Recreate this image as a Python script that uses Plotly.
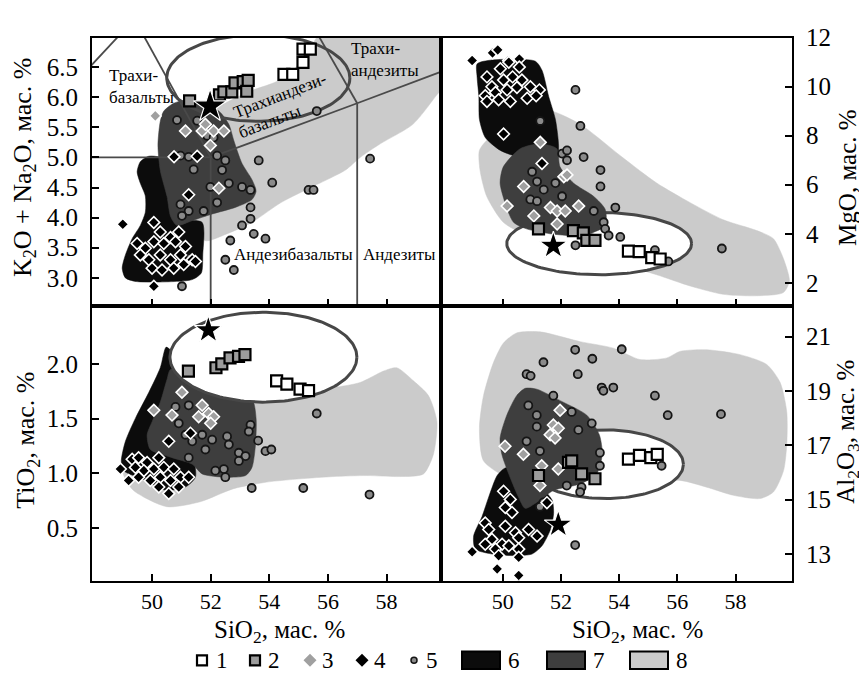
import numpy as np
import plotly.graph_objects as go

FONT = "Liberation Serif"

# ---------------- TAS panel (SiO2 vs K2O+Na2O) ----------------
TAS_G1_X = [54.5, 54.8, 55.15, 55.15, 55.4]
TAS_G1_Y = [6.38, 6.38, 6.58, 6.80, 6.80]
TAS_G2_X = [51.28, 52.3, 52.45, 52.72, 52.83, 53.11, 53.23, 53.28]
TAS_G2_Y = [5.94, 6.04, 6.09, 6.09, 6.24, 6.26, 6.10, 6.28]
TAS_G3_X = [50.11, 51.14, 51.71, 52.10, 52.45, 51.99, 51.82, 52.28]
TAS_G3_Y = [5.69, 5.44, 5.44, 5.44, 5.44, 5.20, 5.55, 4.49]
TAS_G4_X = [50.75, 51.54, 51.25, 50.06, 50.28, 50.63, 50.91, 49.49, 49.77, 50.06, 50.40, 50.80, 51.14,
            49.60, 49.89, 50.28, 50.63, 50.97, 51.37, 50.0, 50.34, 50.74, 51.08, 51.48, 49.0, 50.06]
TAS_G4_Y = [5.01, 5.02, 4.38, 3.92, 3.76, 3.67, 3.76, 3.57, 3.49, 3.60, 3.57, 3.60, 3.52,
            3.38, 3.30, 3.38, 3.30, 3.38, 3.30, 3.16, 3.13, 3.16, 3.22, 3.27, 3.89, 2.86]
TAS_G5_X = [50.85, 51.54, 51.88, 52.10, 50.97, 51.25, 52.22, 52.50, 53.64, 51.42, 52.39, 52.62, 51.99,
            53.07, 53.36, 54.10, 52.22, 50.97, 51.25, 51.76, 51.02, 53.36, 53.36, 53.07, 53.47, 53.87,
            52.67, 52.50, 52.79, 51.31, 51.02, 55.62, 57.44, 55.34, 55.51]
TAS_G5_Y = [5.62, 5.61, 5.36, 5.33, 5.03, 5.01, 5.03, 4.95, 4.95, 4.80, 4.79, 4.57, 4.51,
            4.51, 4.46, 4.58, 4.25, 4.22, 4.11, 4.11, 4.03, 4.17, 3.98, 3.87, 3.73, 3.65,
            3.62, 3.30, 3.13, 3.33, 2.86, 5.77, 4.98, 4.46, 4.46]
TAS_STAR = ([51.98], [5.85])
TAS_F6_X = [49.09, 48.98, 49.09, 49.32, 49.60, 49.77, 49.77, 49.60, 49.49, 49.60, 49.89, 50.28, 50.57,
            50.66, 50.68, 50.91, 51.71, 51.73, 51.68, 51.37, 50.23, 49.43]
TAS_F6_Y = [2.998, 3.16, 3.38, 3.65, 3.87, 4.09, 4.36, 4.57, 4.76, 4.93, 5.02, 5.00, 4.87,
            4.63, 4.25, 3.98, 3.92, 3.38, 3.08, 2.97, 2.93, 2.94]
TAS_F7_X = [50.28, 50.40, 50.74, 51.25, 51.71, 52.28, 52.62, 52.79, 53.07, 53.41, 53.55, 53.41, 52.84,
            52.05, 51.37, 50.85, 50.63, 50.51, 50.28, 50.20]
TAS_F7_Y = [5.60, 5.77, 5.90, 5.96, 5.90, 5.77, 5.55, 5.28, 4.90, 4.63, 4.44, 4.30, 4.17,
            4.06, 3.95, 3.87, 4.02, 4.35, 4.78, 5.21]
TAS_F8_X = [51.8, 52.5, 53.4, 54.4, 55.5, 56.6, 57.1, 57.8, 58.9, 59.72, 60.3, 60.3, 55.9, 55.61,
            55.27, 54.82, 54.25, 53.45, 52.77, 52.09, 51.5, 51.3]
TAS_F8_Y = [3.62, 3.72, 3.92, 4.25, 4.52, 4.79, 5.0, 5.23, 5.55, 6.04, 6.4, 7.3, 7.3, 6.99,
            6.74, 6.45, 6.26, 6.12, 5.97, 5.77, 5.0, 4.2]
TAS_ELLIPSE = (50.5, 56.75, 5.6, 7.04)
# TAS classification boundaries (segments)
TAS_LINES = [
    ([45, 49.4], [5, 7.3]),
    ([45, 52], [5, 5]),
    ([52, 49.4], [5, 7.3]),
    ([52, 52], [0, 5]),
    ([52, 57], [5, 5.9]),
    ([57, 63], [5.9, 7.0]),
    ([57, 57], [0, 5.9]),
    ([57, 53], [5.9, 9.3]),
]

# ---------------- MgO panel ----------------
MGO_G1_X = [54.32, 54.69, 55.12, 55.41]
MGO_G1_Y = [3.29, 3.27, 3.03, 2.97]
MGO_G2_X = [51.23, 52.43, 52.77, 52.89, 53.17]
MGO_G2_Y = [4.2, 4.13, 4.04, 3.73, 3.73]
MGO_G3_X = [51.29, 50.72, 52.10, 52.21, 50.15, 52.61, 51.64, 51.87, 52.15, 51.07, 51.87]
MGO_G3_Y = [7.73, 5.93, 6.33, 6.40, 5.13, 5.13, 5.07, 4.93, 4.93, 4.73, 4.40]
MGO_G4_X = [48.95, 49.65, 49.83, 50.57, 50.2, 49.46, 49.92, 50.21, 50.57, 49.63, 50.03, 50.34, 50.66,
            50.95, 51.26, 49.40, 49.75, 50.15, 50.49, 50.26, 50.84, 51.15, 49.46, 49.86, 50.03, 51.35]
MGO_G4_Y = [11.07, 11.38, 11.5, 11.13, 11.07, 10.40, 10.73, 11.00, 10.80, 10.00, 10.27, 10.40, 10.27,
            10.00, 9.87, 9.63, 9.76, 9.87, 9.97, 9.40, 9.53, 9.63, 9.40, 9.47, 8.07, 6.87]
MGO_G5_X = [52.50, 52.67, 51.29, 52.04, 52.21, 52.21, 52.78, 53.36, 53.36, 51.01, 51.18, 51.41, 51.81,
            52.04, 50.95, 51.18, 53.13, 53.87, 53.47, 53.52, 52.50, 53.64, 54.04, 55.23, 55.69, 57.53]
MGO_G5_Y = [9.87, 8.40, 8.60, 7.27, 7.40, 7.0, 7.13, 6.60, 5.93, 6.53, 6.13, 5.80, 6.07,
            5.53, 5.40, 5.33, 4.93, 5.07, 4.47, 4.20, 3.53, 3.93, 3.87, 3.33, 2.87, 3.40]
MGO_STAR = ([51.74], [3.51])
MGO_F6_X = [49.12, 49.63, 51.12, 51.35, 51.58, 51.81, 51.92, 51.87, 51.35, 50.66, 49.92, 49.40, 49.20,
            49.18, 49.12]
MGO_F6_Y = [10.93, 11.09, 11.04, 10.67, 9.60, 8.67, 7.60, 7.07, 7.04, 7.09, 7.40, 7.93, 8.67,
            9.60, 10.40]
MGO_F7_X = [50.02, 50.60, 51.28, 51.86, 51.97, 52.43, 53.12, 53.52, 53.52, 52.77, 51.63, 50.82, 50.37,
            50.08, 49.91]
MGO_F7_Y = [6.73, 7.47, 7.67, 7.47, 6.73, 6.07, 5.53, 5.00, 4.33, 3.93, 4.00, 4.20, 4.47,
            5.27, 6.07]
MGO_F8_X = [49.56, 49.20, 49.22, 49.45, 50.02, 50.82, 51.86, 53.00, 54.15, 55.29, 56.44, 57.58, 58.73,
            59.64, 59.85, 59.64, 59.30, 58.73, 57.58, 56.44, 55.29, 54.10, 52.66, 51.70, 51.28]
MGO_F8_Y = [7.93, 7.40, 6.60, 5.53, 4.47, 3.93, 3.47, 3.07, 2.73, 2.33, 1.87, 1.53, 1.47,
            1.60, 2.07, 3.00, 3.80, 4.13, 4.57, 5.27, 6.07, 7.13, 8.47, 9.00, 9.00]
MGO_ELLIPSE = (50.14, 56.49, 2.33, 4.87)

# ---------------- TiO2 panel ----------------
TIO2_G1_X = [54.25, 54.6, 55.05, 55.34]
TIO2_G1_Y = [1.847, 1.817, 1.772, 1.757]
TIO2_G2_X = [51.24, 52.18, 52.38, 52.66, 52.95, 53.17]
TIO2_G2_Y = [1.937, 1.967, 2.003, 2.057, 2.072, 2.087]
TIO2_G3_X = [50.06, 51.02, 50.68, 51.71, 51.93, 52.10, 51.59, 52.0]
TIO2_G3_Y = [1.578, 1.742, 1.533, 1.623, 1.548, 1.518, 1.518, 1.458]
TIO2_G4_X = [50.57, 51.31, 49.32, 49.54, 49.83, 50.23, 49.43, 49.72, 50.06, 50.40, 50.74, 49.54, 49.94,
             50.28, 50.63, 50.97, 51.25, 50.23, 50.57, 50.91, 48.92, 49.20]
TIO2_G4_Y = [1.293, 1.368, 1.129, 1.143, 1.099, 1.143, 1.054, 1.024, 1.039, 1.054, 1.039, 0.964, 0.934,
             0.964, 0.934, 0.964, 0.964, 0.874, 0.814, 0.874, 1.039, 0.934]
TIO2_G5_X = [50.80, 51.25, 50.91, 51.14, 51.37, 51.71, 52.05, 52.56, 52.62, 51.82, 52.96, 53.19, 52.96,
             53.36, 53.30, 53.62, 53.87, 54.07, 52.16, 52.45, 52.50, 51.25, 55.62, 55.16, 57.42, 53.40]
TIO2_G5_Y = [1.608, 1.623, 1.458, 1.353, 1.293, 1.353, 1.308, 1.338, 1.263, 1.218, 1.188, 1.158, 1.113,
             1.443, 1.383, 1.299, 1.203, 1.218, 1.024, 1.039, 0.964, 1.143, 1.548, 0.865, 0.805, 0.865]
TIO2_STAR = ([51.92], [2.312])
TIO2_F6_X = [50.48, 50.66, 50.74, 50.63, 50.80, 51.42, 51.48, 51.14, 50.46, 49.66, 49.03, 48.95, 49.09,
             49.43, 49.89, 50.28]
TIO2_F6_Y = [2.156, 2.117, 1.952, 1.712, 1.353, 1.113, 0.964, 0.874, 0.844, 0.949, 1.024, 1.113, 1.293,
             1.503, 1.742, 1.967]
TIO2_F7_X = [50.63, 51.37, 52.50, 53.41, 53.55, 53.53, 53.41, 53.19, 52.50, 51.71, 51.37, 50.68, 49.94,
             49.83, 50.0, 50.28, 50.51]
TIO2_F7_Y = [1.952, 1.922, 1.802, 1.683, 1.503, 1.263, 1.054, 0.979, 0.964, 0.994, 1.083, 1.143, 1.218,
             1.353, 1.473, 1.653, 1.862]
TIO2_F8_X = [49.02, 49.36, 50.50, 51.64, 52.78, 53.91, 55.05, 56.19, 57.33, 58.46, 59.26, 59.60, 59.72,
             59.43, 58.92, 58.35, 57.90, 57.10, 56.19, 55.05, 53.91, 52.78, 50.50, 49.14]
TIO2_F8_Y = [0.994, 0.844, 0.694, 0.739, 0.859, 0.919, 0.949, 0.970, 0.979, 0.970, 0.994, 1.173, 1.473,
             1.712, 1.847, 1.967, 1.937, 1.832, 1.787, 1.787, 1.772, 1.712, 1.413, 1.173]
TIO2_ELLIPSE = (50.61, 56.99, 1.652, 2.476)

# ---------------- Al2O3 panel ----------------
AL_G1_X = [54.32, 54.70, 55.09, 55.31]
AL_G1_Y = [16.49, 16.63, 16.55, 16.67]
AL_G2_X = [52.26, 52.37, 52.71, 53.17, 51.23]
AL_G2_Y = [16.37, 16.43, 15.95, 15.77, 15.89]
AL_G3_X = [51.97, 51.74, 51.91, 51.63, 50.08, 50.71, 51.80, 51.34, 51.91, 51.28]
AL_G3_Y = [18.29, 17.75, 17.63, 17.39, 16.97, 16.67, 17.27, 16.25, 16.13, 15.52]
AL_G4_X = [50.03, 50.26, 50.09, 50.32, 51.52, 49.40, 49.52, 50.09, 50.44, 49.63, 49.98, 50.55, 50.89,
           51.18, 49.40, 50.21, 50.55, 49.75, 48.95, 49.86, 50.55, 49.81, 50.55]
AL_G4_Y = [15.31, 15.01, 14.71, 14.53, 14.89, 14.14, 13.90, 14.02, 13.78, 13.54, 13.36, 13.60, 13.90,
           13.66, 13.36, 13.30, 13.18, 13.18, 13.08, 12.94, 12.88, 12.45, 12.21]
AL_G5_X = [52.49, 54.09, 53.08, 51.40, 50.82, 50.96, 52.58, 53.40, 53.46, 53.80, 55.23, 55.67, 57.50,
           51.74, 50.88, 51.17, 51.17, 52.37, 53.06, 52.60, 50.82, 51.28, 53.34, 53.34, 52.20, 52.71,
           52.66, 52.49, 55.46, 51.40, 51.28]
AL_G5_Y = [20.52, 20.54, 20.19, 20.06, 19.62, 19.56, 19.62, 19.13, 19.01, 19.13, 18.83, 18.11, 18.15,
           18.83, 18.47, 18.11, 17.69, 18.23, 17.81, 17.57, 17.15, 16.79, 16.73, 16.25, 15.52, 15.46,
           15.28, 13.33, 16.25, 14.90, 14.74]
AL_STAR = ([51.91], [14.08])
AL_F6_X = [49.81, 50.09, 50.49, 50.89, 51.41, 51.70, 51.75, 51.64, 51.35, 51.01, 50.44, 49.63, 49.06,
           49.00, 49.29, 49.52]
AL_F6_Y = [15.89, 16.17, 16.10, 15.47, 15.34, 14.98, 14.50, 13.90, 13.30, 13.00, 12.94, 13.00, 13.18,
           13.66, 14.38, 15.10]
AL_F7_X = [50.48, 50.77, 51.17, 52.08, 52.89, 53.32, 53.42, 53.23, 52.66, 51.74, 51.28, 50.77, 50.54,
           50.25, 49.97, 49.91, 50.14]
AL_F7_Y = [18.83, 19.10, 19.07, 18.59, 18.11, 17.39, 16.67, 15.95, 15.58, 15.34, 14.98, 14.68, 15.10,
           15.83, 16.67, 17.27, 18.11]
AL_F8_X = [50.48, 51.28, 52.66, 53.80, 54.72, 55.64, 56.09, 57.01, 58.16, 59.07, 59.53, 59.76, 59.76,
           59.65, 59.30, 58.84, 57.93, 57.01, 56.09, 54.72, 53.00, 51.28, 50.14, 49.34, 49.20, 49.34,
           49.68, 50.02]
AL_F8_Y = [21.14, 21.18, 20.82, 20.58, 20.16, 20.22, 20.46, 20.52, 20.34, 19.98, 19.32, 18.23, 17.03,
           16.07, 15.28, 15.04, 15.16, 15.46, 15.71, 15.58, 15.46, 15.58, 15.83, 16.43, 17.63, 18.83,
           20.04, 20.76]
AL_ELLIPSE = (50.82, 56.21, 15.04, 17.57)

X_TICKS = [50, 52, 54, 56, 58]
KEY_LABELS = ["1", "2", "3", "4", "5", "6", "7", "8"]

# ---------------- page geometry ----------------
# the page body keeps an 8 px margin, so the figure is 8 px smaller and all
# positions below are given in screen pixels and converted.
OFF = 8
W, H = 867 - OFF, 675 - OFF


def px(X):
    return (X - OFF) / W


def py(Y):
    return 1 - (Y - OFF) / H


# ---------------- styles ----------------
C6, C7, C8 = "#0c0c0c", "#3e3e3e", "#cbcbcb"
STY = {
    "g1": dict(symbol="square", size=11, color="white", line=dict(color="black", width=2.2)),
    "g2": dict(symbol="square", size=11, color="#9c9c9c", line=dict(color="black", width=2.2)),
    "g3": dict(symbol="diamond", size=9, color="#a0a0a0", line=dict(color="white", width=1.6)),
    "g4": dict(symbol="diamond", size=9, color="black", line=dict(color="white", width=1.6)),
    "g5": dict(symbol="circle", size=8, color="#8a8a8a", line=dict(color="#151515", width=1.8)),
    "star": dict(symbol="star", size=21, color="black", line=dict(color="white", width=1.2)),
}

fig = go.Figure()


def ellipse_xy(box, n=160):
    x0, x1, y0, y1 = box
    t = np.linspace(0, 2 * np.pi, n)
    return (x0 + x1) / 2 + (x1 - x0) / 2 * np.cos(t), (y0 + y1) / 2 + (y1 - y0) / 2 * np.sin(t)


def field(xs, ys, color, xa, ya):
    fig.add_trace(go.Scatter(x=xs + [xs[0]], y=ys + [ys[0]], mode="lines", fill="toself",
                             fillcolor=color, line=dict(width=0.5, color=color, shape="spline", smoothing=0.7),
                             hoverinfo="skip", showlegend=False, xaxis=xa, yaxis=ya))


def ellipse(box, xa, ya, filled):
    ex, ey = ellipse_xy(box)
    fig.add_trace(go.Scatter(x=ex, y=ey, mode="lines", fill="toself" if filled else None,
                             fillcolor="white", line=dict(color="#474747", width=3),
                             hoverinfo="skip", showlegend=False, xaxis=xa, yaxis=ya))


def pts(xs, ys, key, xa, ya, size=None):
    m = dict(STY[key])
    if size:
        m["size"] = size
    fig.add_trace(go.Scatter(x=xs, y=ys, mode="markers", marker=m, hoverinfo="skip",
                             showlegend=False, xaxis=xa, yaxis=ya, cliponaxis=True))


def panel(xa, ya, f6, f7, f8, ell, ell_mode, g1, g2, g3, g4, g5, star, extra=None, star_size=None):
    field(f8[0], f8[1], C8, xa, ya)
    if ell_mode == "under":
        ellipse(ell, xa, ya, True)
    field(f6[0], f6[1], C6, xa, ya)
    field(f7[0], f7[1], C7, xa, ya)
    if ell_mode == "over":
        ellipse(ell, xa, ya, True)
    if extra:
        extra()
    if ell_mode == "open":
        ellipse(ell, xa, ya, False)
    pts(g5[0], g5[1], "g5", xa, ya)
    pts(g4[0], g4[1], "g4", xa, ya)
    pts(g3[0], g3[1], "g3", xa, ya)
    pts(g2[0], g2[1], "g2", xa, ya)
    pts(g1[0], g1[1], "g1", xa, ya)
    pts(star[0], star[1], "star", xa, ya, star_size)


def tas_lines():
    for lx, ly in TAS_LINES:
        fig.add_trace(go.Scatter(x=lx, y=ly, mode="lines", line=dict(color="#4a4a4a", width=1.8),
                                 hoverinfo="skip", showlegend=False, xaxis="x", yaxis="y"))


panel("x", "y", (TAS_F6_X, TAS_F6_Y), (TAS_F7_X, TAS_F7_Y), (TAS_F8_X, TAS_F8_Y), TAS_ELLIPSE, "open",
      (TAS_G1_X, TAS_G1_Y), (TAS_G2_X, TAS_G2_Y), (TAS_G3_X, TAS_G3_Y), (TAS_G4_X, TAS_G4_Y),
      (TAS_G5_X, TAS_G5_Y), TAS_STAR, extra=tas_lines, star_size=25)
panel("x2", "y2", (MGO_F6_X, MGO_F6_Y), (MGO_F7_X, MGO_F7_Y), (MGO_F8_X, MGO_F8_Y), MGO_ELLIPSE, "under",
      (MGO_G1_X, MGO_G1_Y), (MGO_G2_X, MGO_G2_Y), (MGO_G3_X, MGO_G3_Y), (MGO_G4_X, MGO_G4_Y),
      (MGO_G5_X, MGO_G5_Y), MGO_STAR)
panel("x3", "y3", (TIO2_F6_X, TIO2_F6_Y), (TIO2_F7_X, TIO2_F7_Y), (TIO2_F8_X, TIO2_F8_Y), TIO2_ELLIPSE, "over",
      (TIO2_G1_X, TIO2_G1_Y), (TIO2_G2_X, TIO2_G2_Y), (TIO2_G3_X, TIO2_G3_Y), (TIO2_G4_X, TIO2_G4_Y),
      (TIO2_G5_X, TIO2_G5_Y), TIO2_STAR)
panel("x4", "y4", (AL_F6_X, AL_F6_Y), (AL_F7_X, AL_F7_Y), (AL_F8_X, AL_F8_Y), AL_ELLIPSE, "under",
      (AL_G1_X, AL_G1_Y), (AL_G2_X, AL_G2_Y), (AL_G3_X, AL_G3_Y), (AL_G4_X, AL_G4_Y),
      (AL_G5_X, AL_G5_Y), AL_STAR)

# ---------------- key (legend) on its own axis, in screen-pixel units ----------------
KEY_MARK_X = [202, 255, 310, 362, 414]
KEY_TEXT_X = [214, 266, 320, 372, 424, 506, 591, 674]
KEY_BOX_X = [(462, 500), (547, 585), (630, 668)]
KEY_Y = 660
KEY_DOM = 0.07
key_styles = ["g1", "g2", "g3", "g4", "g5"]
key_sizes = [10, 10, 10, 10, 6]
for i, k in enumerate(key_styles):
    m = dict(STY[k])
    m["size"] = key_sizes[i]
    if k in ("g3", "g4"):
        m["line"] = dict(width=0)
    if k == "g5":
        m["line"] = dict(color="#151515", width=1.5)
    fig.add_trace(go.Scatter(x=[KEY_MARK_X[i]], y=[KEY_Y], mode="markers", marker=m, hoverinfo="skip",
                             showlegend=False, xaxis="x5", yaxis="y5", cliponaxis=False))
shapes = []
for (x0, x1), col in zip(KEY_BOX_X, [C6, C7, C8]):
    shapes.append(dict(type="rect", xref="x5", yref="y5", x0=x0, x1=x1, y0=KEY_Y - 9, y1=KEY_Y + 9,
                       fillcolor=col, line=dict(color="black", width=2)))

annotations = []
for lab, tx in zip(KEY_LABELS, KEY_TEXT_X):
    annotations.append(dict(x=tx, y=KEY_Y, xref="x5", yref="y5", text=lab, showarrow=False,
                            xanchor="left", yanchor="middle", font=dict(family=FONT, size=23, color="black")))

# TAS field names
tas_txt = dict(family=FONT, size=17, color="black")
for txt, x, y, ang, xan in [
    ("Трахи-<br>базальты", 48.45, 6.175, 0, "left"),
    ("Трахи-<br>андезиты", 56.72, 6.63, 0, "left"),
    ("Трахиандези-", 54.36, 6.03, -21, "center"),
    ("базальты", 54.02, 5.60, -21, "center"),
    ("Андезибазальты", 52.72, 3.38, 0, "left"),
    ("Андезиты", 57.12, 3.38, 0, "left"),
]:
    annotations.append(dict(x=x, y=y, xref="x", yref="y", text=txt, showarrow=False, textangle=ang,
                            xanchor=xan, yanchor="middle", align="left", font=tas_txt))

for txt, X, Y, ang, size in [
    ("K<sub>2</sub>O + Na<sub>2</sub>O, мас. %", 24, 157, -90, 26),
    ("TiO<sub>2</sub>, мас. %", 27, 436, -90, 26),
    ("MgO, мас. %", 848, 168, -90, 25),
    ("Al<sub>2</sub>O<sub>3</sub>, мас. %", 848, 427, -90, 25),
    ("SiO<sub>2</sub>, мас. %", 279, 631, 0, 25),
    ("SiO<sub>2</sub>, мас. %", 637, 631, 0, 25),
]:
    annotations.append(dict(x=px(X), y=py(Y), xref="paper", yref="paper", text=txt, showarrow=False,
                            textangle=ang, xanchor="center", yanchor="middle",
                            font=dict(family=FONT, size=size, color="black")))

ytickfont = dict(family=FONT, size=25, color="black")
xtickfont = dict(family=FONT, size=22, color="black")
common = dict(ticks="inside", ticklen=7, tickwidth=2, tickcolor="black", showline=True, linewidth=2,
              linecolor="black", mirror=True, showgrid=False, zeroline=False)
LX, RX = [px(92), px(441)], [px(441), px(792)]
TY, BY = [py(299), py(25)], [py(579), py(299)]

fig.update_layout(
    width=W, height=H, margin=dict(l=0, r=0, t=0, b=0),
    paper_bgcolor="white", plot_bgcolor="white", showlegend=False,
    xaxis=dict(domain=LX, anchor="y", range=[47.95, 59.86], tickvals=X_TICKS, showticklabels=False, **common),
    yaxis=dict(domain=TY, anchor="x", range=[2.526, 6.99], tickvals=[3.0, 3.5, 4.0, 4.5, 5.0, 5.5, 6.0, 6.5],
               tickformat=".1f", ticklabelstandoff=7, tickfont=ytickfont, **common),
    xaxis2=dict(domain=RX, anchor="y2", range=[47.88, 59.94], tickvals=X_TICKS, showticklabels=False, **common),
    yaxis2=dict(domain=TY, anchor="x2", side="right", range=[1.04, 12.0], tickvals=[2, 4, 6, 8, 10, 12],
                ticklabelstandoff=7, tickfont=ytickfont, **common),
    xaxis3=dict(domain=LX, anchor="y3", range=[47.95, 59.86], tickvals=X_TICKS, ticklabelstandoff=0,
                tickfont=xtickfont, **common),
    yaxis3=dict(domain=BY, anchor="x3", range=[0.014, 2.53], tickvals=[0.5, 1.0, 1.5, 2.0], tickformat=".1f",
                ticklabelstandoff=7, tickfont=ytickfont, **common),
    xaxis4=dict(domain=RX, anchor="y4", range=[47.88, 59.94], tickvals=X_TICKS, ticklabelstandoff=0,
                tickfont=xtickfont, **common),
    yaxis4=dict(domain=BY, anchor="x4", side="right", range=[12.01, 22.12], tickvals=[13, 15, 17, 19, 21],
                ticklabelstandoff=7, tickfont=ytickfont, **common),
    xaxis5=dict(domain=[0, 1], anchor="y5", range=[OFF, 867], visible=False, fixedrange=True),
    yaxis5=dict(domain=[0, KEY_DOM], anchor="x5", range=[675, 675 - KEY_DOM * H], visible=False,
                fixedrange=True),
    shapes=shapes, annotations=annotations,
)

fig.write_html("out.html")
